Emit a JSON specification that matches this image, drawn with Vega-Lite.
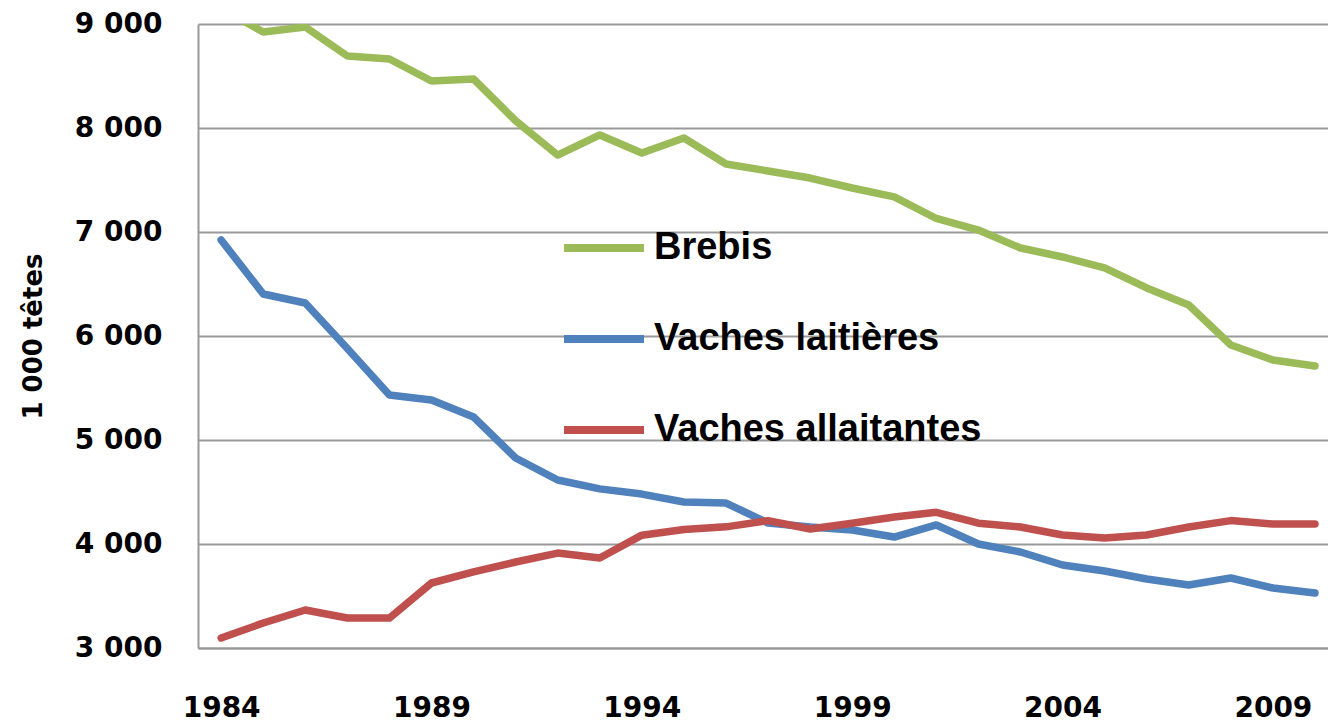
{
  "$schema": "https://vega.github.io/schema/vega-lite/v6.json",
  "width": 1130,
  "height": 624,
  "autosize": {"type": "none"},
  "padding": {"left": 198, "top": 24, "right": 0, "bottom": 76},
  "background": "white",
  "config": {"view": {"stroke": null}},
  "data": {"values": [
    {"year": 1984, "series": "Brebis", "value": 9150},
    {"year": 1985, "series": "Brebis", "value": 8923},
    {"year": 1986, "series": "Brebis", "value": 8971},
    {"year": 1987, "series": "Brebis", "value": 8692},
    {"year": 1988, "series": "Brebis", "value": 8663},
    {"year": 1989, "series": "Brebis", "value": 8452},
    {"year": 1990, "series": "Brebis", "value": 8471},
    {"year": 1991, "series": "Brebis", "value": 8070},
    {"year": 1992, "series": "Brebis", "value": 7740},
    {"year": 1993, "series": "Brebis", "value": 7933},
    {"year": 1994, "series": "Brebis", "value": 7760},
    {"year": 1995, "series": "Brebis", "value": 7904},
    {"year": 1996, "series": "Brebis", "value": 7654},
    {"year": 1997, "series": "Brebis", "value": 7587},
    {"year": 1998, "series": "Brebis", "value": 7519},
    {"year": 1999, "series": "Brebis", "value": 7423},
    {"year": 2000, "series": "Brebis", "value": 7337},
    {"year": 2001, "series": "Brebis", "value": 7130},
    {"year": 2002, "series": "Brebis", "value": 7019},
    {"year": 2003, "series": "Brebis", "value": 6846},
    {"year": 2004, "series": "Brebis", "value": 6760},
    {"year": 2005, "series": "Brebis", "value": 6654},
    {"year": 2006, "series": "Brebis", "value": 6462},
    {"year": 2007, "series": "Brebis", "value": 6298},
    {"year": 2008, "series": "Brebis", "value": 5913},
    {"year": 2009, "series": "Brebis", "value": 5769},
    {"year": 2010, "series": "Brebis", "value": 5712},
    {"year": 1984, "series": "Vaches laitières", "value": 6923},
    {"year": 1985, "series": "Vaches laitières", "value": 6404},
    {"year": 1986, "series": "Vaches laitières", "value": 6317},
    {"year": 1987, "series": "Vaches laitières", "value": 5880},
    {"year": 1988, "series": "Vaches laitières", "value": 5433},
    {"year": 1989, "series": "Vaches laitières", "value": 5385},
    {"year": 1990, "series": "Vaches laitières", "value": 5221},
    {"year": 1991, "series": "Vaches laitières", "value": 4827},
    {"year": 1992, "series": "Vaches laitières", "value": 4615},
    {"year": 1993, "series": "Vaches laitières", "value": 4530},
    {"year": 1994, "series": "Vaches laitières", "value": 4480},
    {"year": 1995, "series": "Vaches laitières", "value": 4404},
    {"year": 1996, "series": "Vaches laitières", "value": 4394},
    {"year": 1997, "series": "Vaches laitières", "value": 4202},
    {"year": 1998, "series": "Vaches laitières", "value": 4163},
    {"year": 1999, "series": "Vaches laitières", "value": 4135},
    {"year": 2000, "series": "Vaches laitières", "value": 4067},
    {"year": 2001, "series": "Vaches laitières", "value": 4183},
    {"year": 2002, "series": "Vaches laitières", "value": 4000},
    {"year": 2003, "series": "Vaches laitières", "value": 3923},
    {"year": 2004, "series": "Vaches laitières", "value": 3798},
    {"year": 2005, "series": "Vaches laitières", "value": 3740},
    {"year": 2006, "series": "Vaches laitières", "value": 3663},
    {"year": 2007, "series": "Vaches laitières", "value": 3606},
    {"year": 2008, "series": "Vaches laitières", "value": 3673},
    {"year": 2009, "series": "Vaches laitières", "value": 3577},
    {"year": 2010, "series": "Vaches laitières", "value": 3529},
    {"year": 1984, "series": "Vaches allaitantes", "value": 3096},
    {"year": 1985, "series": "Vaches allaitantes", "value": 3240},
    {"year": 1986, "series": "Vaches allaitantes", "value": 3365},
    {"year": 1987, "series": "Vaches allaitantes", "value": 3288},
    {"year": 1988, "series": "Vaches allaitantes", "value": 3288},
    {"year": 1989, "series": "Vaches allaitantes", "value": 3625},
    {"year": 1990, "series": "Vaches allaitantes", "value": 3731},
    {"year": 1991, "series": "Vaches allaitantes", "value": 3827},
    {"year": 1992, "series": "Vaches allaitantes", "value": 3913},
    {"year": 1993, "series": "Vaches allaitantes", "value": 3865},
    {"year": 1994, "series": "Vaches allaitantes", "value": 4085},
    {"year": 1995, "series": "Vaches allaitantes", "value": 4140},
    {"year": 1996, "series": "Vaches allaitantes", "value": 4165},
    {"year": 1997, "series": "Vaches allaitantes", "value": 4225},
    {"year": 1998, "series": "Vaches allaitantes", "value": 4144},
    {"year": 1999, "series": "Vaches allaitantes", "value": 4200},
    {"year": 2000, "series": "Vaches allaitantes", "value": 4260},
    {"year": 2001, "series": "Vaches allaitantes", "value": 4305},
    {"year": 2002, "series": "Vaches allaitantes", "value": 4200},
    {"year": 2003, "series": "Vaches allaitantes", "value": 4163},
    {"year": 2004, "series": "Vaches allaitantes", "value": 4086},
    {"year": 2005, "series": "Vaches allaitantes", "value": 4058},
    {"year": 2006, "series": "Vaches allaitantes", "value": 4086},
    {"year": 2007, "series": "Vaches allaitantes", "value": 4163},
    {"year": 2008, "series": "Vaches allaitantes", "value": 4225},
    {"year": 2009, "series": "Vaches allaitantes", "value": 4192},
    {"year": 2010, "series": "Vaches allaitantes", "value": 4192}
  ]},
  "mark": {"type": "line", "clip": true, "strokeWidth": 7.5, "strokeCap": "round", "strokeJoin": "round"},
  "encoding": {
    "x": {
      "field": "year",
      "type": "quantitative",
      "scale": {"domain": [1983.45, 2010.31], "nice": false, "zero": false},
      "axis": {
        "values": [1984, 1989, 1994, 1999, 2004, 2009],
        "format": "d",
        "title": null,
        "grid": false,
        "ticks": false,
        "domain": true,
        "domainColor": "#999999",
        "domainWidth": 2,
        "labelFont": "DejaVu Sans",
        "labelFontWeight": "bold",
        "labelFontSize": 28,
        "labelColor": "#000000",
        "labelPadding": 46,
        "labelFlush": false
      }
    },
    "y": {
      "field": "value",
      "type": "quantitative",
      "scale": {"domain": [3000, 9000], "nice": false, "zero": false},
      "axis": {
        "values": [3000, 4000, 5000, 6000, 7000, 8000, 9000],
        "labelExpr": "replace(format(datum.value, ','), ',', ' ')",
        "title": "1 000 têtes",
        "titleFont": "DejaVu Sans",
        "titleFontWeight": "bold",
        "titleFontSize": 26,
        "titleColor": "#000000",
        "titlePadding": 28,
        "grid": true,
        "gridColor": "#999999",
        "gridWidth": 2,
        "ticks": false,
        "domain": true,
        "domainColor": "#999999",
        "domainWidth": 2,
        "labelFont": "DejaVu Sans",
        "labelFontWeight": "bold",
        "labelFontSize": 28,
        "labelColor": "#000000",
        "labelPadding": 36
      }
    },
    "color": {
      "field": "series",
      "type": "nominal",
      "scale": {
        "domain": ["Brebis", "Vaches laitières", "Vaches allaitantes"],
        "range": ["#9BBB59", "#4F81BD", "#C0504D"]
      },
      "legend": {
        "title": null,
        "orient": "none",
        "legendX": 362,
        "legendY": 180,
        "padding": 0,
        "symbolType": "stroke",
        "symbolSize": 6400,
        "symbolStrokeWidth": 8,
        "labelFont": "Liberation Sans",
        "labelFontWeight": "bold",
        "labelFontSize": 38,
        "labelColor": "#000000",
        "labelOffset": 6,
        "labelLimit": 0,
        "rowPadding": 28
      }
    }
  }
}
